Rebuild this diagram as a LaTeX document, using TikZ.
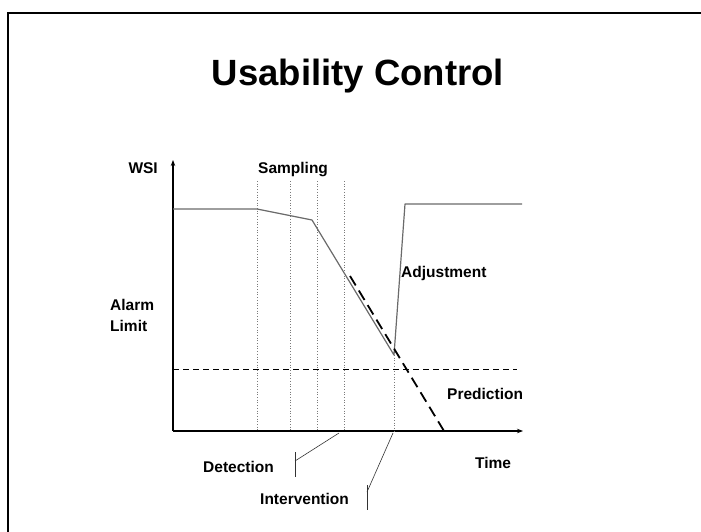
\documentclass[tikz,border=0pt]{standalone}
\usepackage{fontspec}
\setmainfont{Liberation Sans}
\usetikzlibrary{arrows.meta,positioning}
\definecolor{Curve}{HTML}{6A6A6A}
\definecolor{Guide}{HTML}{7A7A7A}

\begin{document}
\begin{tikzpicture}[x=1pt, y=-1pt,
    axis/.style={-{Stealth[length=6pt,width=4.5pt]}, line width=1.3pt, draw=black},
    wsiline/.style={draw=Curve, line width=1.2pt, line join=round},
    sample/.style={draw=Guide, line width=0.7pt, dotted},
    limit/.style={draw=black, line width=0.8pt, dash pattern=on 6pt off 4pt},
    predict/.style={draw=black, line width=1.8pt, dash pattern=on 11pt off 6pt},
    pointer/.style={draw=black!80, line width=0.6pt},
    label/.style={font=\fontsize{15.5}{21}\selectfont\bfseries, inner sep=0pt}
  ]
    \useasboundingbox (0,0) rectangle (701,532);
    \draw[line width=1.5pt] (8,532) -- (8,13) -- (701,13);
    \node[anchor=base, inner sep=0pt] (title) at (358,86)
      {\fontsize{36.5}{40}\selectfont\bfseries Usability Control};

    \coordinate (origin) at (173,431);
    \coordinate (ytip) at (173,160);
    \coordinate (xtip) at (523,431);
    \draw[axis] (origin) -- (ytip);
    \draw[axis] (origin) -- (xtip);

    \foreach \x in {257,290,317,344}
      \draw[sample] (\x,181) -- (\x,431);
    \draw[sample] (394,355) -- (394,431);

    \coordinate (start) at (173,209);
    \coordinate (drift) at (257,209);
    \coordinate (knee) at (312,220);
    \coordinate (low) at (394,355);
    \coordinate (reset) at (405,204);
    \coordinate (stop) at (522,204);
    \draw[wsiline] (start) -- (drift) -- (knee) -- (low) -- (reset) -- (stop);

    \coordinate (limitL) at (173,369);
    \coordinate (limitR) at (517,369);
    \draw[limit] (limitL) -- (limitR);

    \coordinate (predA) at (350,276);
    \coordinate (predB) at (444,431);
    \draw[predict] (predA) -- (predB);

    \node[label, anchor=east] (wsi) at (158,168) {WSI};
    \node[label, anchor=west] (sampling) at (258,170) {Sampling};
    \node[label, anchor=west, align=left] (alarm) at (110,315) {Alarm\\Limit};
    \node[label, anchor=west] (adjust) at (401,273) {Adjustment};
    \node[label, anchor=west] (prediction) at (447,394) {Prediction};
    \node[label, anchor=west] (time) at (475,463) {Time};
    \node[label, anchor=west] (detection) at (203,467) {Detection};
    \node[label, anchor=west] (intervention) at (260,499) {Intervention};

    \coordinate (detTop) at (295,452);
    \coordinate (detBot) at (295,477);
    \coordinate (detJoin) at (295,461);
    \coordinate (detAxis) at (339,433);
    \draw[pointer] (detTop) -- (detBot);
    \draw[pointer] (detJoin) -- (detAxis);

    \coordinate (intTop) at (367,485);
    \coordinate (intBot) at (367,510);
    \coordinate (intJoin) at (367,492);
    \coordinate (intAxis) at (393,433);
    \draw[pointer] (intTop) -- (intBot);
    \draw[pointer] (intJoin) -- (intAxis);
\end{tikzpicture}
\end{document}
